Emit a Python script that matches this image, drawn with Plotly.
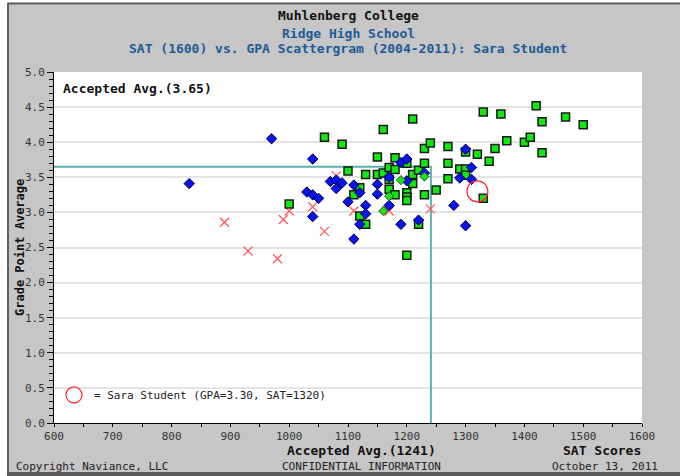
import plotly.graph_objects as go

# ---------------- data ----------------
blue_sat = [830, 970, 1040, 1030, 1040, 1050, 1040, 1070, 1080, 1090, 1080, 1100, 1110, 1120,
            1110, 1120, 1130, 1130, 1150, 1150, 1170, 1170, 1190, 1200, 1200, 1190, 1220, 1230,
            1280, 1300, 1290, 1310, 1310, 1300]
blue_gpa = [3.41, 4.05, 3.76, 3.29, 3.25, 3.20, 2.94, 3.44, 3.46, 3.42, 3.34, 3.15, 3.39, 3.28,
            2.62, 2.83, 3.10, 2.98, 3.40, 3.26, 3.50, 3.10, 3.71, 3.76, 3.45, 2.83, 2.89, 3.56,
            3.10, 3.90, 3.49, 3.64, 3.47, 2.81]

green_sat = [1000, 1060, 1090, 1100, 1110, 1120, 1120, 1130, 1130, 1150, 1150, 1160, 1160, 1170,
             1170, 1170, 1180, 1180, 1180, 1200, 1200, 1200, 1200, 1200, 1210, 1210, 1210, 1220,
             1220, 1230, 1230, 1230, 1240, 1250, 1270, 1270, 1270, 1290, 1300, 1300, 1300, 1320,
             1330, 1330, 1340, 1350, 1360, 1370, 1400, 1410, 1420, 1430, 1430, 1470, 1500]
green_gpa = [3.12, 4.07, 3.97, 3.59, 3.25, 3.35, 2.95, 3.54, 2.83, 3.79, 3.54, 4.18, 3.56, 3.64,
             3.47, 3.33, 3.78, 3.61, 3.25, 3.70, 3.28, 3.22, 3.17, 2.39, 4.33, 3.54, 3.41, 3.60,
             2.83, 3.91, 3.70, 3.25, 3.99, 3.32, 3.94, 3.70, 3.48, 3.62, 3.86, 3.62, 3.53, 3.83,
             4.43, 3.20, 3.73, 3.91, 4.40, 4.02, 4.00, 4.07, 4.52, 4.29, 3.85, 4.36, 4.25]

gdiam_sat = [1160, 1170, 1190, 1230]
gdiam_gpa = [3.02, 3.23, 3.46, 3.51]

red_sat = [890, 930, 980, 990, 1000, 1040, 1060, 1080, 1110, 1170, 1240]
red_gpa = [2.86, 2.45, 2.34, 2.90, 3.02, 3.08, 2.73, 3.52, 3.02, 3.02, 3.05]

student_sat = [1320]
student_gpa = [3.30]

accepted_avg_sat = 1241
accepted_avg_gpa = 3.65

x_range = [600, 1600]
y_range = [0, 5]
x_ticks = [600, 700, 800, 900, 1000, 1100, 1200, 1300, 1400, 1500, 1600]
y_ticks = [0.0, 0.5, 1.0, 1.5, 2.0, 2.5, 3.0, 3.5, 4.0, 4.5, 5.0]

# ---------------- figure ----------------
MONO = "DejaVu Sans Mono"
BLUE_TXT = "#1c5a96"
TEAL = "#5fb0b0"

fig = go.Figure()

fig.add_trace(go.Scatter(
    x=[x_range[0], accepted_avg_sat, accepted_avg_sat],
    y=[accepted_avg_gpa, accepted_avg_gpa, y_range[0]],
    mode="lines", line=dict(color=TEAL, width=2), showlegend=False, hoverinfo="skip"))

fig.add_trace(go.Scatter(
    x=red_sat, y=red_gpa, mode="markers", showlegend=False,
    marker=dict(symbol="x-thin-open", size=9, color="#ff5a5a",
                line=dict(color="#ff5a5a", width=1.3))))

fig.add_trace(go.Scatter(
    x=green_sat, y=green_gpa, mode="markers", showlegend=False,
    marker=dict(symbol="square", size=8, color="#11e811",
                line=dict(color="#1a1a1a", width=1.5))))

fig.add_trace(go.Scatter(
    x=blue_sat, y=blue_gpa, mode="markers", showlegend=False,
    marker=dict(symbol="diamond", size=8, color="#0a14e6",
                line=dict(color="#000050", width=1))))

fig.add_trace(go.Scatter(
    x=gdiam_sat, y=gdiam_gpa, mode="markers", showlegend=False,
    marker=dict(symbol="diamond", size=7, color="#22dd22",
                line=dict(color="#116611", width=1))))

fig.add_trace(go.Scatter(
    x=student_sat, y=student_gpa, mode="markers",
    name="= Sara Student (GPA=3.30, SAT=1320)", showlegend=True,
    marker=dict(symbol="circle-open", size=21, color="#ff2a2a",
                line=dict(color="#ff2a2a", width=1.2))))

fig.update_layout(
    width=680, height=476,
    margin=dict(l=54, r=38, t=72, b=53),
    paper_bgcolor="#c6c6c6",
    plot_bgcolor="white",
    font=dict(family=MONO, size=11, color="#333333"),
    legend=dict(x=0.0, y=0.08, xanchor="left", yanchor="middle",
                bgcolor="rgba(0,0,0,0)", itemsizing="trace",
                font=dict(family=MONO, size=11, color="#222222")),
    xaxis=dict(range=x_range, tickvals=x_ticks, ticks="outside", ticklen=3,
               tickcolor="black", showgrid=False, zeroline=False,
               showline=True, linecolor="black", linewidth=1,
               tickfont=dict(family=MONO, size=11, color="#333333"),
               minor=dict(dtick=50, ticks="outside", ticklen=3, tickcolor="black")),
    yaxis=dict(range=y_range, tickvals=y_ticks, ticktext=[f"{v:.1f}" for v in y_ticks],
               ticks="outside", ticklen=6, tickcolor="black",
               showgrid=True, gridcolor="#e4e4e4", gridwidth=2, zeroline=False,
               showline=True, linecolor="black", linewidth=1,
               tickfont=dict(family=MONO, size=11, color="#333333"),
               minor=dict(dtick=0.1, ticks="outside", ticklen=4, tickcolor="black",
                          showgrid=False)),
)

def px2x(px):
    return (px - 54) / 588.0

def px2y(py):
    return (423 - py) / 351.0

def ann(text, x, y, size=11, color="#222222", bold=False, xanchor="center", angle=0):
    fig.add_annotation(text=f"<b>{text}</b>" if bold else text, x=x, y=y,
                       xref="paper", yref="paper", showarrow=False, borderpad=0,
                       xanchor=xanchor, yanchor="middle", textangle=angle,
                       font=dict(family=MONO, size=size, color=color))

ann("Muhlenberg College", 0.5, px2y(16), size=13, color="#111111", bold=True)
ann("Ridge High School", 0.5, px2y(33.5), size=13, color=BLUE_TXT, bold=True)
ann("SAT (1600) vs. GPA Scattergram (2004-2011): Sara Student", 0.5, px2y(48.5),
    size=13, color=BLUE_TXT, bold=True)
ann(f"Accepted Avg.({accepted_avg_gpa:.2f})", px2x(62), px2y(88), size=13, color="#111111",
    bold=True, xanchor="left")
ann(f"Accepted Avg.({accepted_avg_sat})", px2x(361), px2y(450), size=13, color="#111111",
    bold=True)
ann("SAT Scores", px2x(602), px2y(450.5), size=13, color="#111111", bold=True)
ann("Copyright Naviance, LLC", px2x(15), px2y(466), xanchor="left")
ann("CONFIDENTIAL INFORMATION", px2x(361), px2y(466))
ann("October 13, 2011", px2x(659), px2y(466), xanchor="right")
ann("Grade Point Average", px2x(19.5), 0.5, size=12, color="#111111", bold=True, angle=-90)

# outer frame decoration (paper coordinates)
fig.add_shape(type="rect", xref="paper", yref="paper",
              x0=px2x(-2), x1=px2x(7), y0=px2y(480), y1=px2y(-2),
              fillcolor="white", line=dict(width=0), layer="below")
fig.add_shape(type="rect", xref="paper", yref="paper",
              x0=px2x(-2), x1=px2x(690), y0=px2y(2.5), y1=px2y(-2),
              fillcolor="white", line=dict(width=0), layer="below")
fig.add_shape(type="rect", xref="paper", yref="paper",
              x0=px2x(7), x1=px2x(690), y0=px2y(480), y1=px2y(472),
              fillcolor="#5a5a5a", line=dict(width=0), layer="below")
fig.add_shape(type="line", xref="paper", yref="paper",
              x0=px2x(8), x1=px2x(8), y0=px2y(472), y1=px2y(3),
              line=dict(color="#606060", width=2))
fig.add_shape(type="line", xref="paper", yref="paper",
              x0=px2x(8), x1=px2x(690), y0=px2y(3.5), y1=px2y(3.5),
              line=dict(color="#606060", width=2))

fig.write_html(
    "out.html",
    config={"displayModeBar": False},
    post_script="document.body.style.margin='0px';document.body.style.overflow='hidden';",
)
